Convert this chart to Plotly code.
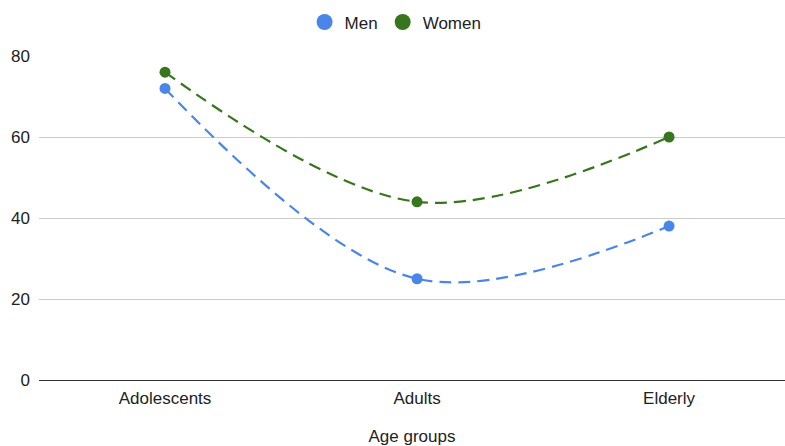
import plotly.graph_objects as go

# Survey shares by age group
age_groups = ["Adolescents", "Adults", "Elderly"]
men = [72, 25, 38]
women = [76, 44, 60]
y_ticks = [0, 20, 40, 60, 80]

MEN_COLOR = "#4a86e8"
WOMEN_COLOR = "#38761d"
FONT = "Liberation Sans, Arial, sans-serif"
TEXT_COLOR = "#222222"

fig = go.Figure()

for name, values, color in [("Men", men, MEN_COLOR), ("Women", women, WOMEN_COLOR)]:
    fig.add_trace(go.Scatter(
        x=age_groups, y=values, name=name, mode="lines+markers",
        line=dict(color=color, width=2.2, dash="12px,7px", shape="spline", smoothing=1),
        marker=dict(color=color, size=11),
        showlegend=False,
    ))
    # legend entry: a plain dot
    fig.add_trace(go.Scatter(
        x=[None], y=[None], name=name, mode="markers",
        marker=dict(color=color, size=17),
    ))

fig.update_layout(
    width=785, height=446,
    margin=dict(l=39, r=0, t=56, b=66),
    paper_bgcolor="white", plot_bgcolor="white",
    font=dict(family=FONT, size=17, color=TEXT_COLOR),
    legend=dict(
        orientation="h", x=0.478, xanchor="center",
        y=0.99, yanchor="top", yref="container",
        font=dict(size=17, color=TEXT_COLOR),
        itemwidth=30,
    ),
    xaxis=dict(
        type="category", range=[-0.5, 2.46], automargin=False,
        showgrid=False, zeroline=False, showline=False,
        ticks="", tickfont=dict(size=17), ticklabelstandoff=6,
        title=dict(text="Age groups", font=dict(size=17), standoff=32),
    ),
    yaxis=dict(
        range=[0, 80], tickvals=y_ticks, showgrid=True, automargin=False,
        gridcolor="#cccccc", gridwidth=1,
        zeroline=True, zerolinecolor="#333333", zerolinewidth=1,
        showline=False, ticks="", ticklabelstandoff=8,
        tickfont=dict(size=17),
    ),
)

fig.write_html("out.html")
